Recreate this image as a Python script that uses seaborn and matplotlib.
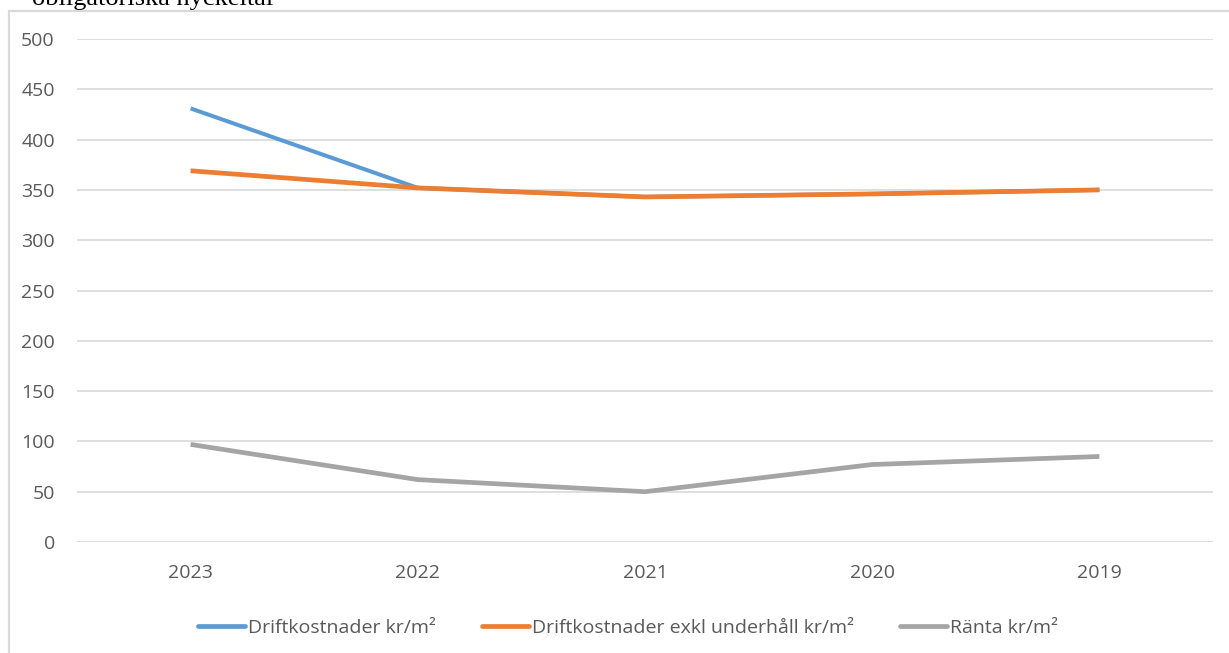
import matplotlib
matplotlib.use("Agg")
import matplotlib.pyplot as plt
import pandas as pd
import seaborn as sns
from matplotlib.patches import Rectangle

# --- data ---
years = ["2023", "2022", "2021", "2020", "2019"]
drift = [431, 352, 343, 346, 350]
drift_exkl = [369, 352, 343, 346, 350]
ranta = [97, 62, 50, 77, 85]

series_names = [
    "Driftkostnader kr/m²",
    "Driftkostnader exkl underhåll kr/m²",
    "Ränta kr/m²",
]
colors = ["#5B9BD5", "#ED7D31", "#A5A5A5"]
yticks = list(range(0, 501, 50))

df = pd.DataFrame({
    "year": years * 3,
    "value": drift + drift_exkl + ranta,
    "series": [series_names[0]] * 5 + [series_names[1]] * 5 + [series_names[2]] * 5,
})

sns.set_theme(style="white")
plt.rcParams["font.family"] = ["Open Sans", "DejaVu Sans"]

W, H = 1229, 653
fig = plt.figure(figsize=(W / 100, H / 100), dpi=100)

# heading of the page, mostly cut off above the chart frame
fig.text(32 / W, 1 - 5 / H, "obligatoriska nyckeltal", family="Liberation Serif",
         fontsize=19, va="baseline", ha="left", color="black")
# chart frame covering the lower part of the heading
fig.patches.append(Rectangle((9 / W, -0.05), 1.1, 1 - 11 / H + 0.05, transform=fig.transFigure,
                             facecolor="white", edgecolor="#D9D9D9", linewidth=1.6, zorder=1))

ax = fig.add_axes([77 / W, 1 - 542 / H, (1213 - 77) / W, (542 - 39) / H], zorder=2)
ax.patch.set_alpha(0)

sns.lineplot(data=df, x="year", y="value", hue="series", hue_order=series_names,
             palette=colors, linewidth=3.2, ax=ax, legend=False, sort=False)
# orange is drawn over the blue one, which hides it from 2022 on
for ln, z, lw in zip(ax.lines, [3, 4, 3], [2.9, 3.4, 3.4]):
    ln.set_zorder(z)
    ln.set_linewidth(lw)
    ln.set_solid_capstyle("butt")

ax.set_xlim(-0.5, 4.5)
ax.set_ylim(0, 500)
ax.set_yticks(yticks)
ax.yaxis.grid(True, color="#D9D9D9", linewidth=1.2)
ax.set_axisbelow(True)
for s in ax.spines.values():
    s.set_visible(False)
ax.tick_params(axis="y", length=0, pad=16, labelsize=14, labelcolor="#595959")
ax.tick_params(axis="x", length=0, pad=16, labelsize=14, labelcolor="#595959")
ax.set_xlabel("")
ax.set_ylabel("")

handles = [plt.Line2D([], [], color=c, linewidth=3.4) for c in colors]
fig.legend(handles, series_names, loc="center", bbox_to_anchor=(628 / W, 1 - 628 / H),
           ncol=3, frameon=False, fontsize=14, handlelength=2.4, handletextpad=0.15,
           columnspacing=2.4, labelcolor="#595959")

fig.savefig("out.png", dpi=100)
